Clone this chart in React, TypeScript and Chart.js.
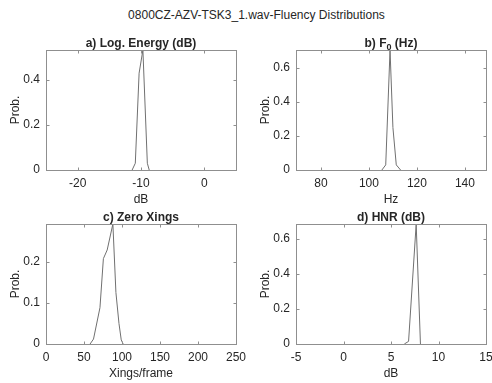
import { useEffect, useRef } from "react";
import { Chart, registerables } from "chart.js";
Chart.register(...registerables);

const FONT = '"Liberation Sans", Arial, Helvetica, sans-serif';
const TEXT = "#262626";
const BOX = "#8f8f8f";
const LINE = "#707070";

const figureTitle = "0800CZ-AZV-TSK3_1.wav-Fluency Distributions";
const yLabel = "Prob.";

// a) Log. Energy (dB)
const energyDb = [-11.4, -10.9, -10.3, -9.7, -9.0, -8.7];
const energyProb = [0, 0.03, 0.43, 0.533, 0.03, 0];
const energyXTicks = [-20, -10, 0];
const energyYTicks = [0, 0.2, 0.4];

// b) F0 (Hz)
const f0Hz = [105.4, 107.0, 108.8, 110.0, 111.4, 113.2];
const f0Prob = [0, 0.03, 0.706, 0.25, 0.03, 0];
const f0XTicks = [80, 100, 120, 140];
const f0YTicks = [0, 0.2, 0.4, 0.6];

// c) Zero Xings
const xingsPerFrame = [58, 62.5, 71, 75.5, 80.5, 88, 92, 96, 99, 101.5];
const xingsProb = [0, 0.012, 0.088, 0.207, 0.228, 0.291, 0.125, 0.05, 0.01, 0];
const xingsXTicks = [0, 50, 100, 150, 200, 250];
const xingsYTicks = [0, 0.1, 0.2];

// d) HNR (dB)
const hnrDb = [6.4, 6.85, 7.65, 8.1];
const hnrProb = [0, 0.015, 0.686, 0];
const hnrXTicks = [-5, 0, 5, 10, 15];
const hnrYTicks = [0, 0.2, 0.4, 0.6];

type Seg = { text: string; sub?: boolean };
type Panel = {
  title: Seg[];
  xs: number[];
  ys: number[];
  xMin: number;
  xMax: number;
  yMax: number;
  xTicks: number[];
  yTicks: number[];
  xLabel: string;
  box: { l: number; t: number; r: number; b: number };
};

const panels: Panel[] = [
  {
    title: [{ text: "a) Log. Energy (dB)" }],
    xs: energyDb, ys: energyProb, xMin: -25, xMax: 5, yMax: 0.533,
    xTicks: energyXTicks, yTicks: energyYTicks, xLabel: "dB",
    box: { l: 46, t: 50, r: 236, b: 170 },
  },
  {
    title: [{ text: "b) F" }, { text: "0", sub: true }, { text: " (Hz)" }],
    xs: f0Hz, ys: f0Prob, xMin: 69.6, xMax: 148.8, yMax: 0.706,
    xTicks: f0XTicks, yTicks: f0YTicks, xLabel: "Hz",
    box: { l: 296, t: 50, r: 486, b: 170 },
  },
  {
    title: [{ text: "c) Zero Xings" }],
    xs: xingsPerFrame, ys: xingsProb, xMin: 0, xMax: 250, yMax: 0.291,
    xTicks: xingsXTicks, yTicks: xingsYTicks, xLabel: "Xings/frame",
    box: { l: 46, t: 224, r: 236, b: 344 },
  },
  {
    title: [{ text: "d) HNR (dB)" }],
    xs: hnrDb, ys: hnrProb, xMin: -5, xMax: 15, yMax: 0.686,
    xTicks: hnrXTicks, yTicks: hnrYTicks, xLabel: "dB",
    box: { l: 296, t: 224, r: 486, b: 344 },
  },
];

const CW = 520;
const CH = 383;
const YW = 46;
const XH = 40;

const framePlugin = {
  id: "frame",
  afterDraw(chart: any, _args: any, opts: any) {
    const { ctx, chartArea: a, scales } = chart;
    const xs = scales.x;
    const ys = scales.y;
    ctx.save();
    ctx.strokeStyle = BOX;
    ctx.lineWidth = 1;
    const L = Math.round(a.left) + 0.5;
    const T = Math.round(a.top) + 0.5;
    const R = Math.round(a.right) + 0.5;
    const B = Math.round(a.bottom) + 0.5;
    ctx.strokeRect(L, T, R - L, B - T);
    ctx.beginPath();
    for (const t of xs.ticks) {
      const px = Math.round(xs.getPixelForValue(t.value)) + 0.5;
      ctx.moveTo(px, B);
      ctx.lineTo(px, B - 3);
      ctx.moveTo(px, T);
      ctx.lineTo(px, T + 3);
    }
    for (const t of ys.ticks) {
      const py = Math.round(ys.getPixelForValue(t.value)) + 0.5;
      ctx.moveTo(L, py);
      ctx.lineTo(L + 3, py);
      ctx.moveTo(R, py);
      ctx.lineTo(R - 3, py);
    }
    ctx.stroke();

    const segs: Seg[] = opts.segments || [];
    const mainFont = `bold 12px ${FONT}`;
    const subFont = `bold 9px ${FONT}`;
    let total = 0;
    const widths = segs.map((s) => {
      ctx.font = s.sub ? subFont : mainFont;
      const w = ctx.measureText(s.text).width;
      total += w;
      return w;
    });
    let x = (a.left + a.right) / 2 - total / 2;
    const base = a.top - 3.5;
    ctx.fillStyle = TEXT;
    ctx.textBaseline = "alphabetic";
    ctx.textAlign = "left";
    segs.forEach((s, i) => {
      ctx.font = s.sub ? subFont : mainFont;
      ctx.fillText(s.text, x, s.sub ? base + 3 : base);
      x += widths[i];
    });
    ctx.restore();
  },
};

function PanelChart({ p }: { p: Panel }) {
  const ref = useRef<HTMLCanvasElement | null>(null);
  useEffect(() => {
    if (!ref.current) return;
    const tickFont = { family: FONT, size: 12 };
    const chart = new Chart(ref.current, {
      type: "line",
      data: {
        datasets: [
          {
            data: p.xs.map((x, i) => ({ x, y: p.ys[i] })),
            borderColor: LINE,
            borderWidth: 1,
            pointRadius: 0,
            tension: 0,
            fill: false,
          },
        ],
      },
      options: {
        animation: false,
        responsive: false,
        devicePixelRatio: 1,
        events: [],
        layout: {
          padding: {
            left: p.box.l - YW,
            top: p.box.t,
            right: CW - p.box.r,
            bottom: CH - p.box.b - XH,
          },
        },
        plugins: {
          legend: { display: false },
          tooltip: { enabled: false },
          title: { display: false },
          frame: { segments: p.title },
        } as any,
        scales: {
          x: {
            type: "linear",
            min: p.xMin,
            max: p.xMax,
            afterBuildTicks: (s: any) => {
              s.ticks = p.xTicks.map((v) => ({ value: v }));
            },
            afterFit: (s: any) => {
              s.height = XH;
            },
            grid: { display: false, drawTicks: false },
            border: { display: false },
            ticks: {
              font: tickFont,
              color: TEXT,
              padding: 6,
              maxRotation: 0,
              autoSkip: false,
              callback: (v: any) => String(v),
            },
            title: {
              display: true,
              text: p.xLabel,
              font: tickFont,
              color: TEXT,
              padding: { top: 0, bottom: 3 },
            },
          },
          y: {
            type: "linear",
            min: 0,
            max: p.yMax,
            afterBuildTicks: (s: any) => {
              s.ticks = p.yTicks.map((v) => ({ value: v }));
            },
            afterFit: (s: any) => {
              s.width = YW;
            },
            grid: { display: false, drawTicks: false },
            border: { display: false },
            ticks: {
              font: tickFont,
              color: TEXT,
              padding: 6,
              autoSkip: false,
              callback: (v: any) => String(v),
            },
            title: {
              display: true,
              text: yLabel,
              font: tickFont,
              color: TEXT,
              padding: { top: 8, bottom: 0 },
            },
          },
        },
      },
      plugins: [framePlugin],
    } as any);
    return () => chart.destroy();
  }, [p]);
  return (
    <canvas
      ref={ref}
      width={CW}
      height={CH}
      style={{ position: "absolute", left: 0, top: 0, width: CW, height: CH }}
    />
  );
}

export default function App() {
  return (
    <div
      style={{
        position: "absolute",
        left: 0,
        top: 0,
        width: 492,
        height: 383,
        overflow: "hidden",
        background: "#fff",
      }}
    >
      <div
        style={{
          position: "absolute",
          left: 0,
          top: 8,
          width: 513,
          textAlign: "center",
          font: `12px ${FONT}`,
          lineHeight: "14px",
          color: TEXT,
          whiteSpace: "nowrap",
        }}
      >
        {figureTitle}
      </div>
      {panels.map((p, i) => (
        <PanelChart key={i} p={p} />
      ))}
    </div>
  );
}
